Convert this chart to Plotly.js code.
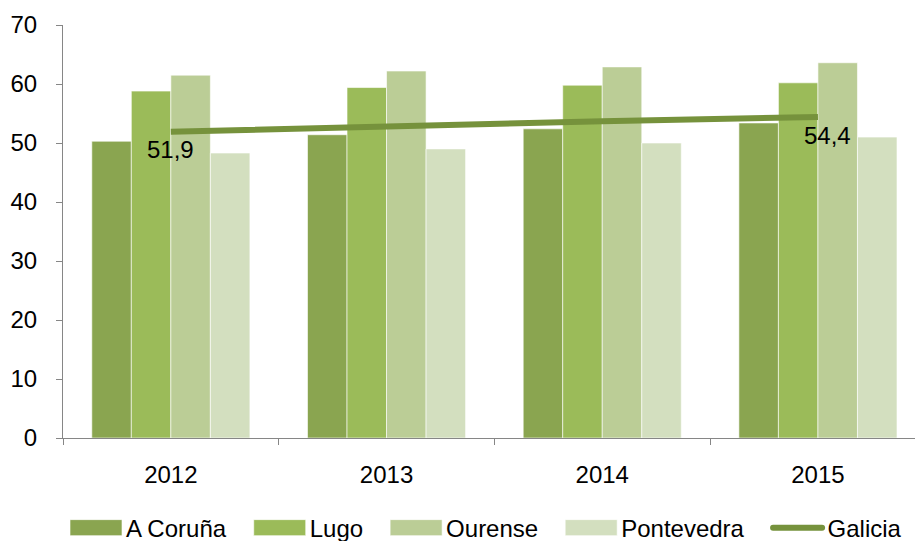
<!DOCTYPE html>
<html>
<head>
<meta charset="utf-8">
<script src="https://cdn.plot.ly/plotly-3.0.1.min.js"></script>
<style>
    html, body { margin: 0; padding: 0; background: #ffffff; }
    #chart { width: 915px; height: 541px; }
</style>
</head>
<body>
<div id="chart"></div>
<script>
// ---------- Data ---------- //
const years = ['2012', '2013', '2014', '2015'];
const aCoruna = [50.3, 51.4, 52.4, 53.4];
const lugo = [58.8, 59.4, 59.8, 60.2];
const ourense = [61.5, 62.2, 62.9, 63.6];
const pontevedra = [48.3, 49.0, 50.0, 51.0];
const galicia = [51.9, 52.9, 53.7, 54.4];
const labelledPoints = [0, 3]; // only first and last Galicia values carry a label

// ---------- Style ---------- //
const FONT = '"Liberation Sans", Arial, sans-serif';
const axisGrey = '#868686';

function barTrace(name, values, color) {
    return {
        type: 'bar',
        name: name,
        x: years,
        y: values,
        marker: {
            color: color,
            line: { color: 'rgba(255,255,255,0.6)', width: 1 }
        },
        hoverinfo: 'skip'
    };
}

const traces = [
    barTrace('A Coruña', aCoruna, '#8AA550'),
    barTrace('Lugo', lugo, '#9BBB59'),
    barTrace('Ourense', ourense, '#BBCD96'),
    barTrace('Pontevedra', pontevedra, '#D3DFBF'),
    {
        type: 'scatter',
        mode: 'lines',
        name: 'Galicia',
        x: years,
        y: galicia,
        line: { color: '#76923C', width: 6 },
        hoverinfo: 'skip'
    }
];

// data labels on the Galicia line (decimal comma)
// category axis: annotation x is the category index
const labelShift = [0, 10];
const annotations = labelledPoints.map((i, k) => ({
    x: i,
    y: galicia[i],
    xref: 'x',
    yref: 'y',
    text: galicia[i].toFixed(1).replace('.', ','),
    showarrow: false,
    xshift: labelShift[k],
    yshift: -18,
    font: { family: FONT, size: 24, color: '#000000' }
}));

const layout = {
    width: 915,
    height: 541,
    margin: { l: 63, r: 0, t: 25, b: 103, autoexpand: false },
    paper_bgcolor: '#ffffff',
    plot_bgcolor: '#ffffff',
    font: { family: FONT, size: 24, color: '#000000' },
    barmode: 'group',
    bargap: 0.267,
    bargroupgap: 0,
    showlegend: true,
    legend: {
        orientation: 'h',
        x: -0.0176,
        xanchor: 'left',
        y: -0.218,
        yanchor: 'middle',
        itemwidth: 68,
        bgcolor: 'rgba(0,0,0,0)',
        font: { family: FONT, size: 24, color: '#000000' },
        traceorder: 'normal'
    },
    xaxis: {
        type: 'category',
        range: [-0.5, 3.45],
        showline: true,
        linecolor: axisGrey,
        linewidth: 1,
        ticks: 'outside',
        tickson: 'boundaries',
        ticklen: 6,
        tickcolor: axisGrey,
        ticklabelstandoff: 15,
        showgrid: false,
        zeroline: false,
        fixedrange: true
    },
    yaxis: {
        range: [0, 70],
        dtick: 10,
        showline: true,
        linecolor: axisGrey,
        linewidth: 1,
        ticks: 'outside',
        ticklen: 6,
        tickcolor: axisGrey,
        ticklabelstandoff: 14,
        showgrid: false,
        zeroline: false,
        fixedrange: true
    },
    annotations: annotations
};

const config = { displayModeBar: false, staticPlot: true };

Plotly.newPlot('chart', traces, layout, config).then(gd => {
    // wide legend swatches, sitting close to their text like the original
    gd.querySelectorAll('.legend .traces').forEach(item => {
        const bar = item.querySelector('.legendpoints path');
        if (bar) bar.setAttribute('d', 'M-17,8H35V-8H-17Z');
        const line = item.querySelector('.legendlines path');
        if (line) {
            line.setAttribute('d', 'M23.5,0h49');
            line.style.strokeLinecap = 'round';
        }
    });
});
</script>
</body>
</html>
